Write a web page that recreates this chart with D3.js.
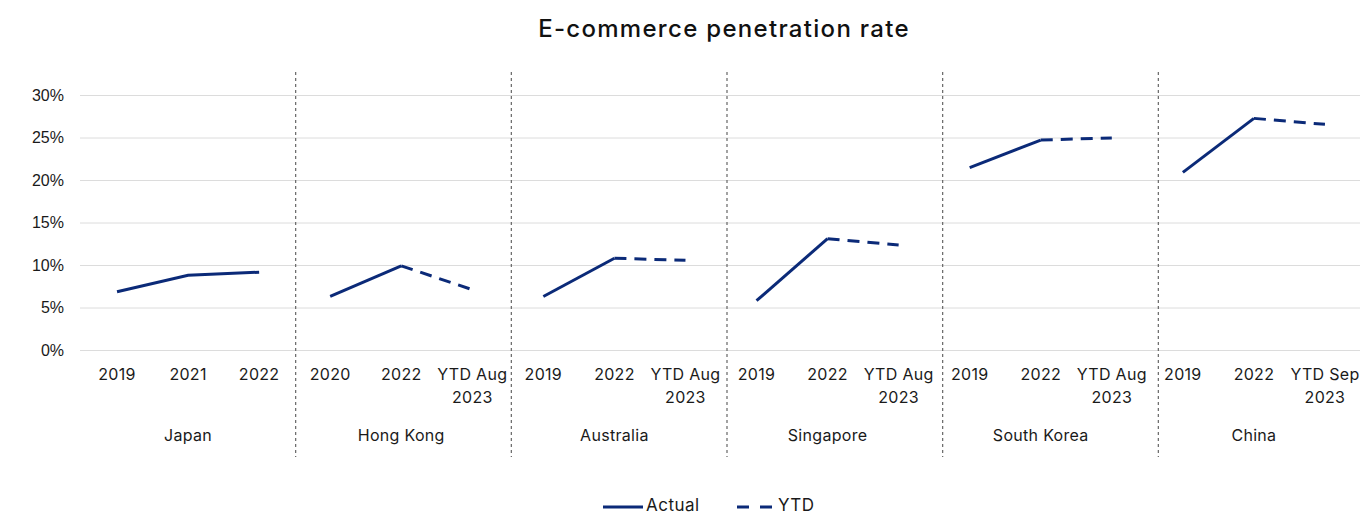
<!DOCTYPE html>
<html>
<head>
<meta charset="utf-8">
<script src="https://cdn.jsdelivr.net/npm/d3@7"></script>
<style>
  body { margin: 0; background: #fff; }
  svg { font-family: Inter, "Noto Sans", sans-serif; }
</style>
</head>
<body>
<svg width="1360" height="515"></svg>
<script>
const svg = d3.select("svg");

// data
const countries = ["Japan", "Hong Kong", "Australia", "Singapore", "South Korea", "China"];
const periods = [
  ["2019", "2021", "2022"],
  ["2020", "2022", "YTD Aug|2023"],
  ["2019", "2022", "YTD Aug|2023"],
  ["2019", "2022", "YTD Aug|2023"],
  ["2019", "2022", "YTD Aug|2023"],
  ["2019", "2022", "YTD Sep|2023"]
];
const values = [
  [6.85, 8.8, 9.15],
  [6.3, 9.9, 7.1],
  [6.3, 10.8, 10.55],
  [5.8, 13.1, 12.35],
  [21.45, 24.7, 24.95],
  [20.9, 27.25, 26.55]
];
// index of the first YTD point in each group (-1 = none)
const ytdStart = [-1, 2, 2, 2, 2, 2];
const yTicks = [0, 5, 10, 15, 20, 25, 30];

const navy = "#0b2a78";
const textCol = "#1a1a1a";

// flat list of categories
const cats = [];
countries.forEach((c, gi) => periods[gi].forEach((p, pi) => {
  cats.push({ key: c + "-" + pi, country: c, gi, pi, label: p, value: values[gi][pi] });
}));

const x = d3.scaleBand()
  .domain(cats.map(d => d.key))
  .range([81.5, 1360.5]);

// group scale, used for the dashed separators
const xg = d3.scaleBand()
  .domain(countries)
  .range([80, 1374]);

const y = d3.scaleLinear()
  .domain([0, 30])
  .range([350, 95]);

// gridlines + y labels
const yAxis = svg.append("g")
  .attr("transform", "translate(80,0)")
  .call(d3.axisLeft(y).tickValues(yTicks).tickSize(-1280).tickFormat(d => d + "%"));
yAxis.select(".domain").remove();
yAxis.selectAll(".tick line").attr("stroke", "#dcdcdc").attr("stroke-width", 1);
yAxis.selectAll(".tick text")
  .attr("x", -16)
  .attr("fill", textCol)
  .style("font-size", "16px");

// group dividers
svg.selectAll(".divider")
  .data(countries.slice(1))
  .enter()
  .append("line")
  .attr("x1", d => xg(d))
  .attr("x2", d => xg(d))
  .attr("y1", 72)
  .attr("y2", 457)
  .attr("stroke", "#666")
  .attr("stroke-width", 1.2)
  .attr("stroke-dasharray", "3,3");

// x tick labels (can be two lines)
const xl = svg.append("g").selectAll("text")
  .data(cats)
  .enter()
  .append("text")
  .attr("x", d => x(d.key) + x.bandwidth() / 2)
  .attr("y", 380)
  .attr("text-anchor", "middle")
  .attr("fill", textCol)
  .style("font-size", "16px")
  .style("letter-spacing", "0.3px");
xl.each(function (d) {
  const parts = d.label.split("|");
  parts.forEach((t, i) => {
    d3.select(this).append("tspan")
      .attr("x", x(d.key) + x.bandwidth() / 2)
      .attr("dy", i === 0 ? 0 : 23)
      .text(t);
  });
});

// country labels
svg.selectAll(".country")
  .data(countries)
  .enter()
  .append("text")
  .attr("x", d => x(d + "-1") + x.bandwidth() / 2)
  .attr("y", 441)
  .attr("text-anchor", "middle")
  .attr("fill", textCol)
  .style("font-size", "16px")
  .style("letter-spacing", "0.3px")
  .text(d => d);

// lines
const line = d3.line()
  .x(d => x(d.key) + x.bandwidth() / 2)
  .y(d => y(d.value));

countries.forEach((c, gi) => {
  const pts = cats.filter(d => d.gi === gi);
  const cut = ytdStart[gi];
  const solid = cut < 0 ? pts : pts.slice(0, cut);
  svg.append("path")
    .datum(solid)
    .attr("d", line)
    .attr("fill", "none")
    .attr("stroke", navy)
    .attr("stroke-width", 3);
  if (cut >= 0) {
    svg.append("path")
      .datum(pts.slice(cut - 1))
      .attr("d", line)
      .attr("fill", "none")
      .attr("stroke", navy)
      .attr("stroke-width", 3)
      .attr("stroke-dasharray", "12,8");
  }
});

// title
svg.append("text")
  .attr("x", 724)
  .attr("y", 37)
  .attr("text-anchor", "middle")
  .attr("fill", "#111")
  .style("font-size", "24px")
  .style("font-weight", 500)
  .style("letter-spacing", "1.3px")
  .text("E-commerce penetration rate");

// legend
const lg = svg.append("g");
lg.append("line")
  .attr("x1", 603).attr("x2", 643).attr("y1", 507).attr("y2", 507)
  .attr("stroke", navy).attr("stroke-width", 3);
lg.append("text")
  .attr("x", 646).attr("y", 511)
  .attr("fill", textCol).style("font-size", "17px")
  .style("letter-spacing", "0.5px")
  .text("Actual");
lg.append("line")
  .attr("x1", 737).attr("x2", 775).attr("y1", 507).attr("y2", 507)
  .attr("stroke", navy).attr("stroke-width", 3)
  .attr("stroke-dasharray", "12,11");
lg.append("text")
  .attr("x", 778).attr("y", 511)
  .attr("fill", textCol).style("font-size", "17px")
  .style("letter-spacing", "0.5px")
  .text("YTD");
</script>
</body>
</html>
